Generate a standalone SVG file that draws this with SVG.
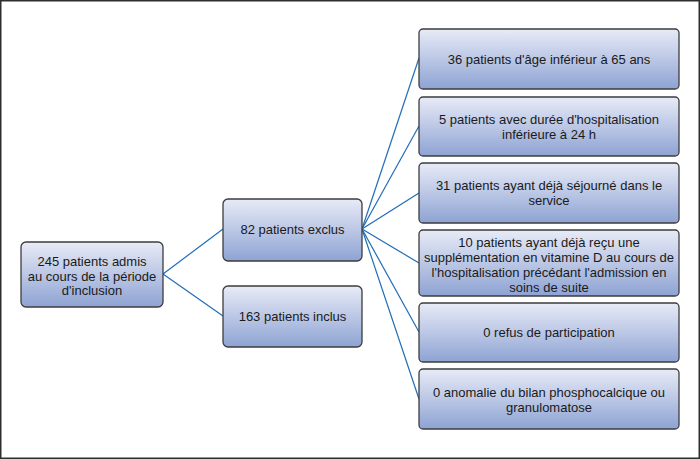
<svg xmlns="http://www.w3.org/2000/svg" width="700" height="459" viewBox="0 0 700 459">
<defs>
<linearGradient id="g" x1="0" y1="0" x2="0" y2="1">
<stop offset="0" stop-color="#e8ebf7"/>
<stop offset="1" stop-color="#8ea3d3"/>
</linearGradient>
<style>
.box{fill:url(#g);stroke:#3d3d3d;stroke-width:1.3}
.t{font-family:"Liberation Sans",Arial,sans-serif;font-size:13px;fill:#1a1a1a;text-anchor:middle}
.c{stroke:#1f6db8;stroke-width:1.2;fill:none}
</style>
</defs>
<rect x="0.75" y="0.75" width="698.5" height="457.5" fill="#ffffff" stroke="#2e2e2e" stroke-width="1.5"/>
<g id="connectors">
<line class="c" x1="163" y1="274" x2="223" y2="229"/>
<line class="c" x1="163" y1="274" x2="223" y2="316"/>
<line class="c" x1="362" y1="229" x2="419" y2="58"/>
<line class="c" x1="362" y1="229" x2="419" y2="126"/>
<line class="c" x1="362" y1="229" x2="419" y2="193"/>
<line class="c" x1="362" y1="229" x2="419" y2="263"/>
<line class="c" x1="362" y1="229" x2="419" y2="332"/>
<line class="c" x1="362" y1="229" x2="419" y2="399"/>
</g>
<g id="n-admis">
<rect class="box" x="21" y="242" width="142" height="65" rx="5"/>
<text class="t" x="92" y="266">245 patients admis</text>
<text class="t" x="92" y="281">au cours de la période</text>
<text class="t" x="92" y="295">d'inclusion</text>
</g>
<g id="n-exclus">
<rect class="box" x="223" y="199" width="139" height="62" rx="5"/>
<text class="t" x="292.5" y="234">82 patients exclus</text>
</g>
<g id="n-inclus">
<rect class="box" x="223" y="286" width="139" height="61" rx="5"/>
<text class="t" x="292.5" y="321">163 patients inclus</text>
</g>
<g id="n-age">
<rect class="box" x="419" y="29" width="260" height="60" rx="4"/>
<text class="t" x="549" y="64">36 patients d'âge inférieur à 65 ans</text>
</g>
<g id="n-duree">
<rect class="box" x="419" y="97" width="260" height="59" rx="4"/>
<text class="t" x="549" y="124">5 patients avec durée d'hospitalisation</text>
<text class="t" x="549" y="139">inférieure à 24 h</text>
</g>
<g id="n-sejour">
<rect class="box" x="419" y="163" width="260" height="60" rx="4"/>
<text class="t" x="549" y="190">31 patients ayant déjà séjourné dans le</text>
<text class="t" x="549" y="205">service</text>
</g>
<g id="n-vitd">
<rect class="box" x="419" y="230" width="260" height="66" rx="4"/>
<text class="t" x="549" y="247">10 patients ayant déjà reçu une</text>
<text class="t" x="549" y="262">supplémentation en vitamine D au cours de</text>
<text class="t" x="549" y="277">l'hospitalisation précédant l'admission en</text>
<text class="t" x="549" y="292">soins de suite</text>
</g>
<g id="n-refus">
<rect class="box" x="419" y="303" width="260" height="59" rx="4"/>
<text class="t" x="549" y="337">0 refus de participation</text>
</g>
<g id="n-bilan">
<rect class="box" x="419" y="369" width="260" height="60" rx="4"/>
<text class="t" x="549" y="397">0 anomalie du bilan phosphocalcique ou</text>
<text class="t" x="549" y="412">granulomatose</text>
</g>
</svg>
